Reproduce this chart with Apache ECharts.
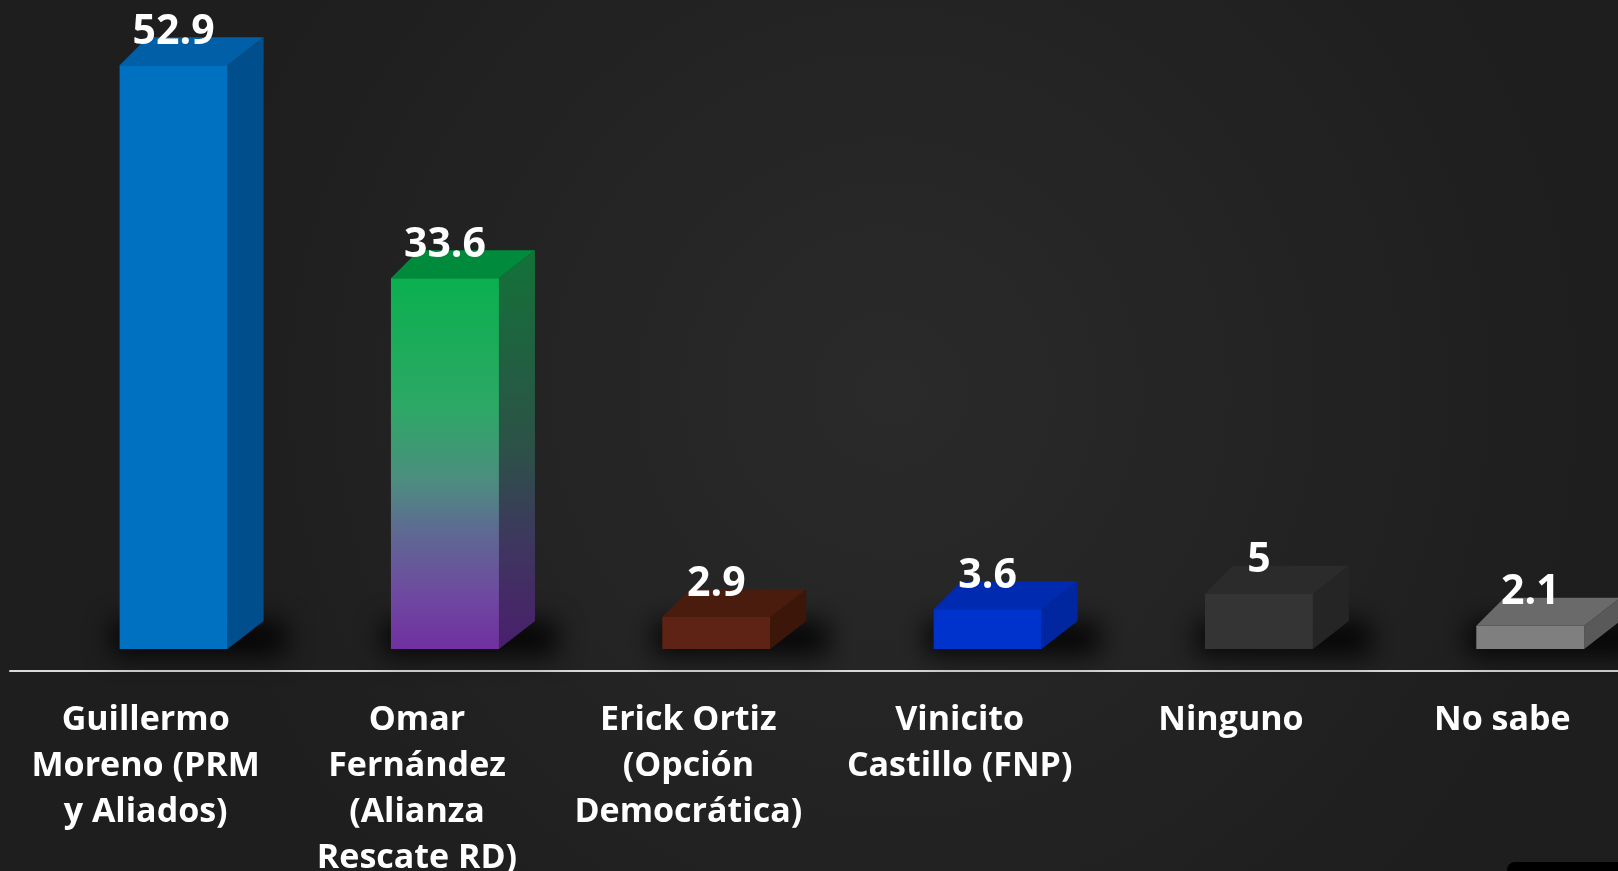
<!DOCTYPE html>
<html>
<head>
<meta charset="utf-8">
<title>Encuesta</title>
<script src="https://cdn.jsdelivr.net/npm/echarts@6/dist/echarts.min.js"></script>
<style>
  html, body { margin: 0; padding: 0; background: #212121; }
  #chart { width: 1618px; height: 871px; }
</style>
</head>
<body>
<div id="chart"></div>
<script>
const categories = [
  'Guillermo\nMoreno (PRM\ny Aliados)',
  'Omar\nFernández\n(Alianza\nRescate RD)',
  'Erick Ortiz\n(Opción\nDemocrática)',
  'Vinicito\nCastillo (FNP)',
  'Ninguno',
  'No sabe'
]
const values = [52.9, 33.6, 2.9, 3.6, 5, 2.1]
const valueLabels = ['52.9', '33.6', '2.9', '3.6', '5', '2.1']

// front / top / side colours per bar
const frontColors = ['#0070C0', null, '#5E2314', '#0033CC', '#343434', '#7F7F7F']
const topColors = ['#005FA6', '#008A3C', '#4A1C0D', '#002AB0', '#2B2B2B', '#6A6A6A']
const sideColors = ['#004E8C', null, '#3D160A', '#0026A0', '#252525', '#595959']

const FRONT_OFFSET = -0.096
const FRONT_WIDTH = 0.398
const DX_LEFT = 28
const DX_RIGHT = 36
const DY = 28

const greenPurple = new echarts.graphic.LinearGradient(0, 0, 0, 1, [
  { offset: 0, color: '#0AB04F' },
  { offset: 0.35, color: '#2DA866' },
  { offset: 0.55, color: '#4D8C80' },
  { offset: 0.68, color: '#5E6A92' },
  { offset: 0.85, color: '#6E4AA0' },
  { offset: 1, color: '#7030A0' }
])
const greenPurpleSide = new echarts.graphic.LinearGradient(0, 0, 0, 1, [
  { offset: 0, color: '#137238' },
  { offset: 0.5, color: '#2D5148' },
  { offset: 0.75, color: '#3F3560' },
  { offset: 1, color: '#4A1F6C' }
])

const chart = echarts.init(document.getElementById('chart'))

const renderBox = (params, api) => {
  const i = params.dataIndex
  const base = api.coord([i, 0])
  const top = api.coord([i, api.value(1)])
  const band = api.size([1, 0])[0]
  const x0 = base[0] + band * FRONT_OFFSET
  const x1 = x0 + band * FRONT_WIDTH
  const yb = base[1]
  const yt = top[1]
  const front = i === 1 ? greenPurple : frontColors[i]
  const side = i === 1 ? greenPurpleSide : sideColors[i]
  return {
    type: 'group',
    children: [
      {
        // soft shadow on the floor (only the blurred shadow is visible)
        type: 'rect',
        shape: { x: x0 - 8, y: yb - DY - 2000, width: x1 - x0 + DX_RIGHT + 30, height: DY + 6 },
        style: { fill: '#000', shadowBlur: 26, shadowColor: 'rgba(0,0,0,0.85)', shadowOffsetY: 2000 },
        silent: true
      },
      {
        type: 'polygon',
        shape: { points: [[x1, yt], [x1 + DX_RIGHT, yt - DY], [x1 + DX_RIGHT, yb - DY], [x1, yb]] },
        style: { fill: side }
      },
      {
        type: 'polygon',
        shape: { points: [[x0, yt], [x1, yt], [x1 + DX_RIGHT, yt - DY], [x0 + DX_LEFT, yt - DY]] },
        style: { fill: topColors[i] }
      },
      {
        type: 'rect',
        shape: { x: x0, y: yt, width: x1 - x0, height: yb - yt },
        style: { fill: front }
      },
      {
        type: 'text',
        x: (x0 + x1) / 2,
        y: yt - 33,
        style: {
          text: valueLabels[i],
          fill: '#FFFFFF',
          font: 'bold 41px "Open Sans", sans-serif',
          align: 'center',
          verticalAlign: 'middle'
        }
      }
    ]
  }
}

const option = {
  backgroundColor: new echarts.graphic.RadialGradient(0.55, 0.45, 0.8, [
    { offset: 0, color: '#2A2A2A' },
    { offset: 1, color: '#1E1E1E' }
  ]),
  animation: false,
  grid: { left: 10, right: -20, top: 9, bottom: 222, containLabel: false, outerBoundsMode: 'none' },
  xAxis: {
    type: 'category',
    data: categories,
    offset: 22,
    axisLine: { show: true, onZero: false, lineStyle: { color: '#D9D9D9', width: 2 } },
    axisTick: { show: false },
    axisLabel: {
      interval: 0,
      margin: 26,
      color: '#FFFFFF',
      fontFamily: 'Open Sans',
      fontWeight: 'bold',
      fontSize: 34,
      lineHeight: 46,
      align: 'center'
    },
    splitLine: { show: false }
  },
  yAxis: {
    type: 'value',
    min: 0,
    max: 58,
    show: false
  },
  series: [
    {
      type: 'custom',
      renderItem: renderBox,
      encode: { x: 0, y: 1 },
      data: values.map((v, i) => [i, v])
    }
  ],
  graphic: [
    {
      type: 'rect',
      shape: { x: 1507, y: 862, width: 130, height: 30, r: 8 },
      style: { fill: '#000000' }
    }
  ]
}

chart.setOption(option)
</script>
</body>
</html>
